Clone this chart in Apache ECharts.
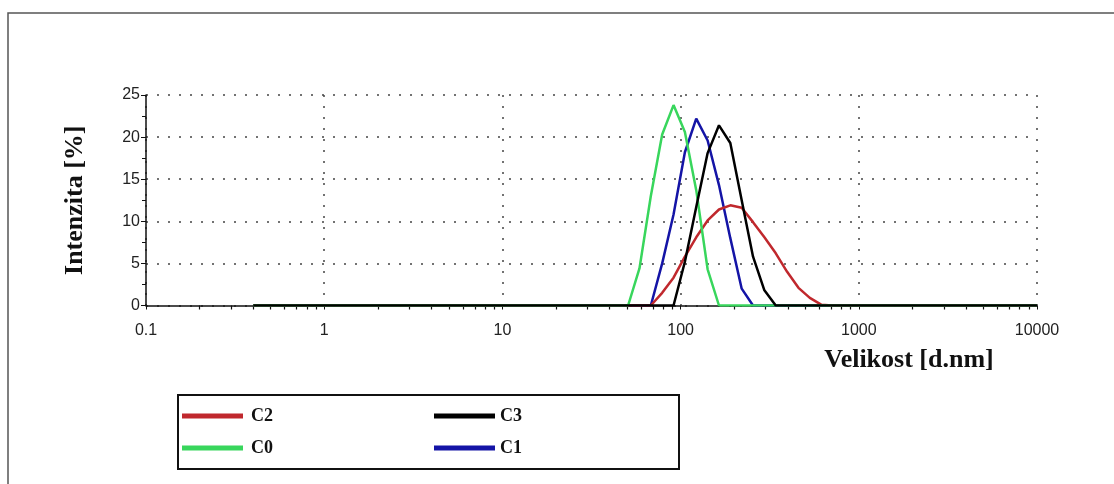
<!DOCTYPE html>
<html>
<head>
<meta charset="utf-8">
<script src="https://cdn.jsdelivr.net/npm/echarts@6/dist/echarts.min.js"></script>
<style>
  html, body { margin: 0; padding: 0; background: #fff; }
  #chart { width: 1114px; height: 484px; }
</style>
</head>
<body>
<div id="chart"></div>
<script>
// velikost [d.nm] a intenzita [%]
const sizeC2 = [0.4, 68.06, 78.82, 91.28, 105.7, 122.4, 141.8, 164.2, 190.1, 220.2, 255.0, 295.3, 342.0, 396.1, 458.7, 531.2, 615.1, 712.4, 10000];
const valC2  = [0,   0,     1.5,   3.3,   5.8,   8.1,   10.1,  11.4,  11.9,  11.6,  9.9,   8.1,   6.2,   4.0,   2.1,   0.9,   0.1,   0,     0];

const sizeC3 = [0.4, 91.28, 105.7, 122.4, 141.8, 164.2, 190.1, 220.2, 255.0, 295.3, 342.0, 10000];
const valC3  = [0,   0,     5.2,   11.7,  18.1,  21.4,  19.3,  12.5,  5.8,   1.8,   0,     0];

const sizeC0 = [0.4, 50.75, 58.77, 68.06, 78.82, 91.28, 105.7, 122.4, 141.8, 164.2, 10000];
const valC0  = [0,   0,     4.4,   13.0,  20.3,  23.8,  20.6,  13.7,  4.3,   0,     0];

const sizeC1 = [0.4, 68.06, 78.82, 91.28, 105.7, 122.4, 141.8, 164.2, 190.1, 220.2, 255.0, 10000];
const valC1  = [0,   0,     5.0,   10.8,  18.2,  22.2,  19.6,  14.3,  8.0,   2.0,   0,     0];

const legendLeft = ['C2', 'C0'];
const legendRight = ['C3', 'C1'];

// vedlejší značky na log ose (2..9 v každé dekádě)
const minorTicks = [];
[0.1, 1, 10, 100, 1000].forEach(d => {
  for (let k = 2; k <= 9; k++) minorTicks.push(+(d * k).toPrecision(3));
});

function pairs(xs, ys) {
  return xs.map((x, i) => [x, ys[i]]);
}

const dotted = { color: '#444', width: 1.5, type: [2, 9] };

const chart = echarts.init(document.getElementById('chart'));
chart.setOption({
  backgroundColor: '#fff',
  animation: false,
  grid: { left: 146, right: 77, top: 95, bottom: 178.5 },
  xAxis: [{
    type: 'log',
    min: 0.1,
    max: 10000,
    logBase: 10,
    name: 'Velikost [d.nm]',
    nameLocation: 'end',
    nameGap: -128,
    nameTextStyle: {
      fontFamily: 'Liberation Serif', fontWeight: 'bold', fontSize: 26, color: '#111',
      align: 'center', verticalAlign: 'top', padding: [42, 0, 0, 0]
    },
    axisLine: { lineStyle: { color: '#111', width: 1.5 } },
    axisTick: { length: 4, lineStyle: { color: '#111' } },
    axisLabel: {
      margin: 17, fontFamily: 'Liberation Sans', fontSize: 16, color: '#222',
      formatter: v => String(v)
    },
    splitLine: { show: true, lineStyle: dotted }
  }, {
    type: 'log',
    min: 0.1,
    max: 10000,
    logBase: 10,
    position: 'bottom',
    axisLine: { show: false },
    axisLabel: { show: false },
    axisTick: { show: true, length: 4, customValues: minorTicks, lineStyle: { color: '#111', width: 1.2 } },
    splitLine: { show: false }
  }],
  yAxis: {
    type: 'value',
    min: 0,
    max: 25,
    interval: 5,
    name: 'Intenzita [%]',
    nameLocation: 'middle',
    nameGap: 58,
    nameTextStyle: { fontFamily: 'Liberation Serif', fontWeight: 'bold', fontSize: 26, color: '#111' },
    axisLine: { show: true, lineStyle: { color: '#111', width: 1.5 } },
    axisTick: { show: true, length: 5, lineStyle: { color: '#111' } },
    minorTick: { show: true, splitNumber: 2, length: 4, lineStyle: { color: '#111' } },
    axisLabel: { margin: 6, fontFamily: 'Liberation Sans', fontSize: 16, color: '#222' },
    splitLine: { show: true, lineStyle: dotted }
  },
  legend: [{
    data: legendLeft,
    orient: 'vertical',
    left: 182,
    top: 407,
    padding: 0,
    icon: 'rect',
    itemWidth: 61,
    itemHeight: 5,
    itemGap: 14,
    textStyle: { fontFamily: 'Liberation Serif', fontWeight: 'bold', fontSize: 18, color: '#111', padding: [0, 0, 0, 3] }
  }, {
    data: legendRight,
    orient: 'vertical',
    left: 434,
    top: 407,
    padding: 0,
    icon: 'rect',
    itemWidth: 61,
    itemHeight: 5,
    itemGap: 14,
    textStyle: { fontFamily: 'Liberation Serif', fontWeight: 'bold', fontSize: 18, color: '#111', padding: [0, 0, 0, 0] }
  }],
  graphic: [{
    type: 'rect',
    shape: { x: 8, y: 13, width: 1200, height: 600 },
    style: { fill: 'none', stroke: '#555', lineWidth: 1.5 },
    silent: true
  }, {
    type: 'rect',
    shape: { x: 178, y: 395, width: 501, height: 74 },
    style: { fill: 'none', stroke: '#111', lineWidth: 2 },
    silent: true
  }],
  series: [{
    name: 'C1', type: 'line', showSymbol: false,
    data: pairs(sizeC1, valC1),
    itemStyle: { color: '#1414a6' },
    lineStyle: { color: '#1414a6', width: 2.5 }
  }, {
    name: 'C2', type: 'line', showSymbol: false,
    data: pairs(sizeC2, valC2),
    itemStyle: { color: '#c0282d' },
    lineStyle: { color: '#c0282d', width: 2.5 }
  }, {
    name: 'C0', type: 'line', showSymbol: false,
    data: pairs(sizeC0, valC0),
    itemStyle: { color: '#38d65c' },
    lineStyle: { color: '#38d65c', width: 2.5 }
  }, {
    name: 'C3', type: 'line', showSymbol: false,
    data: pairs(sizeC3, valC3),
    itemStyle: { color: '#000' },
    lineStyle: { color: '#000', width: 2.5 }
  }]
});
</script>
</body>
</html>
